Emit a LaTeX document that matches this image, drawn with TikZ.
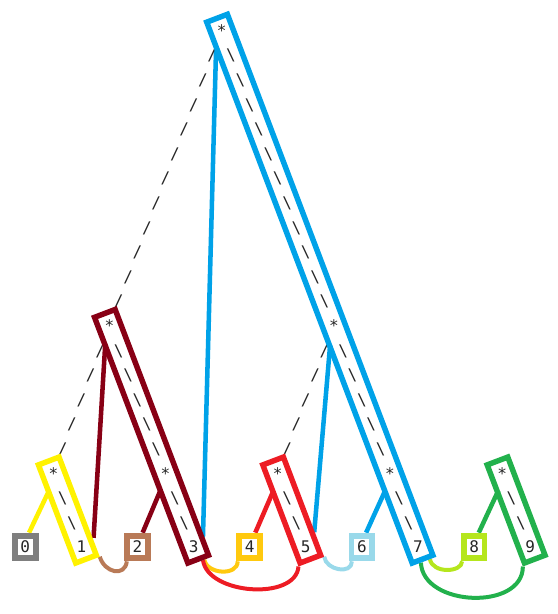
\documentclass[tikz,border=0pt]{standalone}
\usepackage{fontspec}
\setmonofont{DejaVu Sans Mono}
\usepackage{tikz}
\usetikzlibrary{fit,calc,backgrounds}

\definecolor{pgray}{HTML}{7F7F7F}
\definecolor{pyellow}{HTML}{FFF200}
\definecolor{pmaroon}{HTML}{880015}
\definecolor{pbrown}{HTML}{B97A57}
\definecolor{pblue}{HTML}{00A2E8}
\definecolor{pgold}{HTML}{FFC90E}
\definecolor{pred}{HTML}{ED1C24}
\definecolor{pcyan}{HTML}{99D9EA}
\definecolor{plime}{HTML}{B5E61D}
\definecolor{pgreen}{HTML}{22B14C}

\begin{document}
\begin{tikzpicture}[x=7.0125pt, y=-18.45pt,
  ch/.style={inner sep=0pt, text height=8.75pt, text depth=0pt, text=black!85, font={\ttfamily\fontsize{12pt}{12pt}\selectfont}},
  leafbox/.style={ch, draw=#1, line width=4.4pt, minimum width=15.6pt, minimum height=17.1pt},
  chain/.style={draw=#1, line width=4.1pt, rotate fit=20.8, inner xsep=8.25pt, inner ysep=9.75pt},
  link/.style={draw=#1, line width=3.4pt},
  hook/.style={draw=#1, line width=3pt}]
\useasboundingbox (-2.706,-1.236) rectangle (56.973,23.724);
\node[ch] (top) at (21,0) {*};
\node[ch] (sa) at (9,12) {*};
\node[ch] (sb) at (33,12) {*};
\foreach \s/\c in {sc/3, sd/15, se/27, sf/39, sg/51} \node[ch] (\s) at (\c,18) {*};
\foreach \k in {1,...,11} \node[ch] (tl\k) at ({21-\k},\k) {/};
\foreach \k in {1,...,11,13,14,15,16,17,19,20} \node[ch] (tr\k) at ({21+\k},\k) {\textbackslash};
\foreach \k in {1,...,5} \node[ch] (al\k) at ({9-\k},{12+\k}) {/};
\foreach \k in {1,...,5,7,8} \node[ch] (ar\k) at ({9+\k},{12+\k}) {\textbackslash};
\foreach \k in {1,...,5} \node[ch] (bl\k) at ({33-\k},{12+\k}) {/};
\foreach \s/\c in {sc/3, se/27, sg/51} \foreach \k in {1,2} \node[ch] (\s-\k) at ({\c+\k},{18+\k}) {\textbackslash};
\foreach \i in {1,3,5,7,9} \node[ch] (l\i) at ({6*\i},21) {\i};
\foreach \i/\c in {0/pgray, 2/pbrown, 4/pgold, 6/pcyan, 8/plime} \node[leafbox=\c] (l\i) at ({6*\i},21) {\i};
\node[chain=pblue, fit=(top.center)(l7.center)] (bx-top) {};
\node[chain=pmaroon, fit=(sa.center)(l3.center)] (bx-a) {};
\node[chain=pyellow, fit=(sc.center)(l1.center)] (bx-c) {};
\node[chain=pred, fit=(se.center)(l5.center)] (bx-e) {};
\node[chain=pgreen, fit=(sg.center)(l9.center)] (bx-g) {};
\begin{scope}[on background layer]
\draw[link=pyellow] ($(l0.north)+(0.4,0)$) -- ($(sc)+(-0.45,0.7)$);
\draw[link=pmaroon] ($(l1)+(1.3,-0.37)$) -- ($(sa)+(-0.45,0.75)$);
\draw[link=pmaroon] ($(l2.north)+(0.55,0)$) -- ($(sd)+(-0.55,0.7)$);
\draw[link=pblue] ($(l3)+(1.0,-0.4)$) -- ($(top)+(-0.6,0.8)$);
\draw[link=pred] ($(l4.north)+(0.6,0)$) -- ($(se)+(-0.45,0.7)$);
\draw[link=pblue] ($(l5)+(0.9,-0.6)$) -- ($(sb)+(-0.4,0.8)$);
\draw[link=pblue] ($(l6.north)+(0.45,0)$) -- ($(sf)+(-0.5,0.7)$);
\draw[link=pgreen] ($(l8.north)+(0.5,0)$) -- ($(sg)+(-0.4,0.7)$);
\draw[hook=pbrown] (bx-c.south east) .. controls +(0.5,0.65) and +(-0.2,0.65) .. ($(l2.south west)!0.2!(l2.south)$);
\draw[hook=pgold] ($(bx-a.south west)!0.7!(bx-a.south east)$) .. controls +(0.3,0.6) and +(0,0.6) .. ($(l4.south west)!0.1!(l4.south)$);
\draw[hook=pred] ($(bx-a.south west)!0.65!(bx-a.south east)$) .. controls +(0.5,1.4) and +(-0.3,1.4) .. (bx-e.south west);
\draw[hook=pcyan] (bx-e.south east) .. controls +(0.2,0.55) and +(0,0.55) .. ($(l6.south west)!0.25!(l6.south)$);
\draw[hook=plime] ($(bx-top.south west)!0.75!(bx-top.south east)$) .. controls +(0.3,0.6) and +(0,0.45) .. ($(l8.south west)!0.1!(l8.south)$);
\draw[hook=pgreen] ($(bx-top.south west)!0.4!(bx-top.south east)$) .. controls +(0.2,1.8) and +(0,1.8) .. (bx-g.south west);
\end{scope}
\end{tikzpicture}
\end{document}
